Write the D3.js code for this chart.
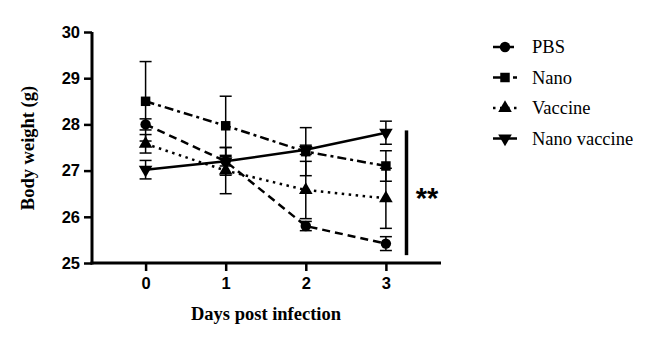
<!DOCTYPE html>
<html><head><meta charset="utf-8">
<script src="https://cdn.jsdelivr.net/npm/d3@7"></script>
<style>body{margin:0;background:#fff}svg{display:block}</style>
</head><body>
<svg id="c" width="669" height="337"></svg>
<script>
const days = [0, 1, 2, 3];
const seriesNames = ["PBS", "Nano", "Vaccine", "Nano vaccine"];
const pbsMean = [28.0, 27.2, 25.8, 25.42];
const pbsErr = [0.12, 0.3, 0.1, 0.15];
const nanoMean = [28.5, 27.97, 27.41, 27.1];
const nanoErr = [0.86, 0.64, 0.52, 0.33];
const vaccineMean = [27.58, 27.0, 26.58, 26.4];
const vaccineErr = [0.2, 0.5, 0.62, 0.65];
const nanoVaccineMean = [27.02, 27.2, 27.45, 27.82];
const nanoVaccineErr = [0.2, 0.1, 0.1, 0.25];
const yTicks = [25, 26, 27, 28, 29, 30];
const xTicks = [0, 1, 2, 3];

const series = [
  {name: seriesNames[0], mean: pbsMean, err: pbsErr, dash: "8,5", marker: "circle"},
  {name: seriesNames[1], mean: nanoMean, err: nanoErr, dash: "9,4,3,4", marker: "square"},
  {name: seriesNames[2], mean: vaccineMean, err: vaccineErr, dash: "2.5,4.5", marker: "triangle"},
  {name: seriesNames[3], mean: nanoVaccineMean, err: nanoVaccineErr, dash: null, marker: "down"}
];

const svg = d3.select("#c");
const x = d3.scaleLinear().domain([-0.669, 3.688]).range([92, 441]);
const y = d3.scaleLinear().domain([25, 30]).range([263, 32]);

function markerPath(m) {
  if (m === "circle") return d3.symbol().type(d3.symbolCircle).size(85)();
  if (m === "square") return d3.symbol().type(d3.symbolSquare).size(90)();
  return d3.symbol().type(d3.symbolTriangle).size(80)();
}

// axes
const yAxis = svg.append("g").attr("transform", "translate(92,0)")
  .call(d3.axisLeft(y).tickValues(yTicks).tickFormat(d3.format("d")).tickSize(8).tickPadding(4).tickSizeOuter(0));
const xAxis = svg.append("g").attr("transform", "translate(0,263)")
  .call(d3.axisBottom(x).tickValues(xTicks).tickFormat(d3.format("d")).tickSize(8).tickPadding(6).tickSizeOuter(0));
[yAxis, xAxis].forEach(g => {
  g.select(".domain").attr("stroke", "#000").attr("stroke-width", 3);
  g.selectAll(".tick line").attr("stroke", "#000").attr("stroke-width", 2.5);
  g.selectAll(".tick text").attr("fill", "#000")
    .style("font-family", "'Liberation Sans', Arial, sans-serif")
    .style("font-weight", "bold").style("font-size", "16.5px");
});
yAxis.select(".domain").attr("d", "M0,32V264.5");
xAxis.select(".domain").attr("d", "M90.5,0H441");

svg.append("text").attr("transform", "translate(34,148) rotate(-90)")
  .attr("text-anchor", "middle")
  .style("font-family", "'Liberation Serif', 'Times New Roman', serif")
  .style("font-weight", "bold").style("font-size", "18.5px")
  .text("Body weight (g)");
svg.append("text").attr("x", 266).attr("y", 320).attr("text-anchor", "middle")
  .style("font-family", "'Liberation Serif', 'Times New Roman', serif")
  .style("font-weight", "bold").style("font-size", "18.5px")
  .text("Days post infection");

// error bars
series.forEach(s => {
  const g = svg.append("g");
  days.forEach((d, i) => {
    const cx = x(d), lo = y(s.mean[i] - s.err[i]), hi = y(s.mean[i] + s.err[i]);
    g.append("line").attr("x1", cx).attr("x2", cx).attr("y1", lo).attr("y2", hi)
      .attr("stroke", "#000").attr("stroke-width", 1.5);
    [lo, hi].forEach(yy => g.append("line").attr("x1", cx - 6).attr("x2", cx + 6)
      .attr("y1", yy).attr("y2", yy).attr("stroke", "#000").attr("stroke-width", 1.5));
  });
});

// lines
const line = d3.line().x((d, i) => x(days[i])).y(d => y(d));
series.forEach(s => {
  svg.append("path").attr("d", line(s.mean)).attr("fill", "none")
    .attr("stroke", "#000").attr("stroke-width", 2.5)
    .attr("stroke-dasharray", s.dash);
});
// markers
series.forEach(s => {
  days.forEach((d, i) => {
    svg.append("path").attr("d", markerPath(s.marker))
      .attr("transform", `translate(${x(d)},${y(s.mean[i])})` + (s.marker === "down" ? " rotate(180)" : ""))
      .attr("fill", "#000");
  });
});

// significance
svg.append("line").attr("x1", 406.5).attr("x2", 406.5).attr("y1", y(27.87)).attr("y2", y(25.17))
  .attr("stroke", "#000").attr("stroke-width", 3.5);
svg.append("text").attr("x", 427).attr("y", 208).attr("text-anchor", "middle")
  .style("font-family", "'Liberation Sans', Arial, sans-serif")
  .style("font-weight", "bold").style("font-size", "29px").text("**");

// legend
const lg = svg.append("g");
series.forEach((s, i) => {
  const yy = 47 + i * 30.5;
  lg.append("line").attr("x1", 493).attr("x2", 517).attr("y1", yy).attr("y2", yy)
    .attr("stroke", "#000").attr("stroke-width", 2.5).attr("stroke-dasharray", s.dash);
  lg.append("path").attr("d", markerPath(s.marker))
    .attr("transform", `translate(505,${yy})` + (s.marker === "down" ? " rotate(180)" : ""))
    .attr("fill", "#000");
  lg.append("text").attr("x", 532).attr("y", yy + 6)
    .style("font-family", "'Liberation Serif', 'Times New Roman', serif")
    .style("font-size", "18.5px").text(s.name);
});
</script>
</body></html>
